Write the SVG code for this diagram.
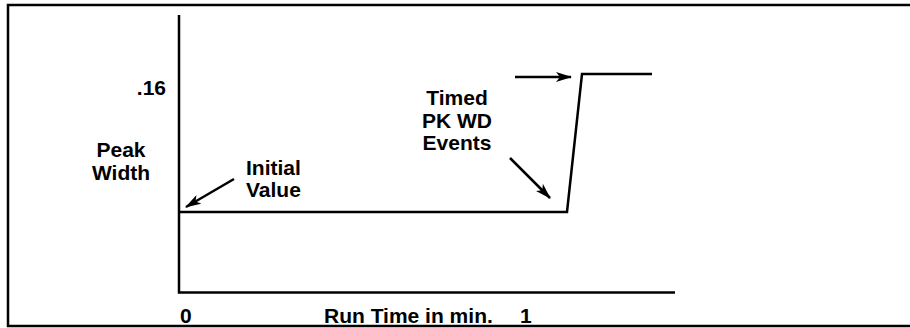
<svg xmlns="http://www.w3.org/2000/svg" width="910" height="328" viewBox="0 0 910 328">
<defs>
<style>
.t{font-family:"Liberation Sans",Arial,sans-serif;font-weight:bold;font-size:21px;fill:#000}
.ln{stroke:#000;stroke-width:2.5;fill:none}
.ar{stroke:#000;stroke-width:2.5;fill:none;marker-end:url(#ah)}
</style>
<marker id="ah" viewBox="0 0 16 10" refX="15" refY="5" markerWidth="16" markerHeight="10" markerUnits="userSpaceOnUse" orient="auto">
<path d="M0,0 L16,5 L0,10 L4,5 Z" fill="#000"/>
</marker>
</defs>
<rect x="8" y="5" width="912" height="321" fill="#fff" stroke="#000" stroke-width="2.5"/>
<g id="axes">
<path class="ln" d="M179,15 V292.5 H675"/>
</g>
<g id="connectors">
<path class="ln" d="M179,212 H567 L582,74 H652"/>
<path class="ar" d="M234,179 L186,207"/>
<path class="ar" d="M510,158 L550,198"/>
<path class="ar" d="M515,77 L571,77"/>
</g>
<g id="label-016"><text class="t" x="166" y="95" text-anchor="end">.16</text></g>
<g id="label-peakwidth"><text class="t" x="121" y="157" text-anchor="middle">Peak</text><text class="t" x="121" y="180" text-anchor="middle">Width</text></g>
<g id="label-initial"><text class="t" x="246" y="175">Initial</text><text class="t" x="246" y="197">Value</text></g>
<g id="label-timed"><text class="t" x="457" y="105" text-anchor="middle">Timed</text><text class="t" x="457" y="128" text-anchor="middle">PK WD</text><text class="t" x="457" y="150" text-anchor="middle">Events</text></g>
<g id="label-x"><text class="t" x="180" y="323">0</text><text class="t" x="324" y="323">Run Time in min.</text><text class="t" x="520" y="323">1</text></g>
</svg>
